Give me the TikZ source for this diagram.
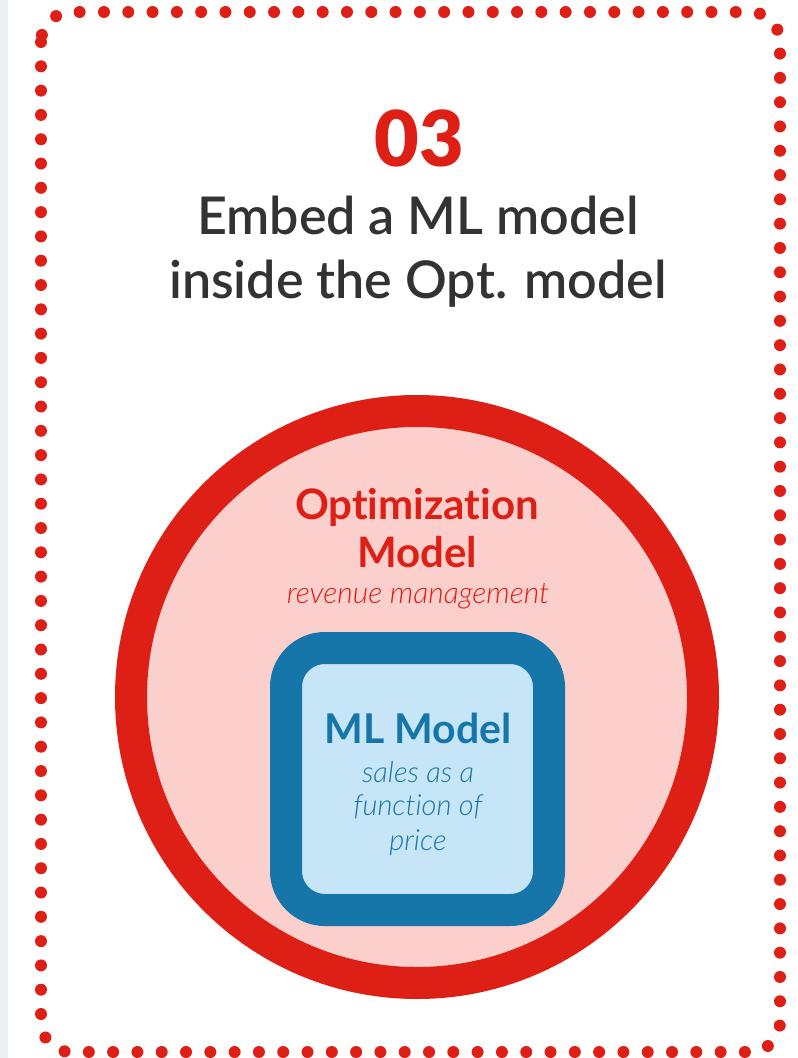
\documentclass[tikz,border=0pt]{standalone}
\usepackage{fontspec}
\setmainfont{Lato}[Ligatures=NoCommon]
\newfontfamily\blackfont{Lato Black}
\newfontfamily\medfont{Lato Semibold}[Ligatures=NoCommon]
\newfontfamily\lightit{Lato Light Italic}[Ligatures=NoCommon]
\definecolor{cred}{HTML}{DD1F16}
\definecolor{cpink}{HTML}{FBCFCB}
\definecolor{cblue}{HTML}{1776A9}
\definecolor{clblue}{HTML}{C6E6F7}
\definecolor{ctitle}{HTML}{333333}
\definecolor{cstrip}{HTML}{EBEFF3}
\tikzset{
  txt/.style={anchor=base, inner sep=0pt, align=center},
}
\begin{document}
\begin{tikzpicture}[x=1pt,y=1pt]
\useasboundingbox (0,0) rectangle (798,-1058);
\fill[white] (0,0) rectangle (798,-1058);
\fill[cstrip] (0,0) rectangle (8,-1058);
% dotted frame
\draw[cred, line width=12pt, line cap=round, dash pattern=on 0pt off 24.3pt, rounded corners=30pt]
  (41,-12) rectangle (780,-1052);
% title
\node[txt, text=cred, font=\blackfont\fontsize{77}{80}\selectfont] (num) at (419,-166) {03};
\node[txt, text=ctitle, font=\medfont\fontsize{52}{60}\selectfont] (t1) at (418,-234) {Embed a ML model};
\node[txt, text=ctitle, font=\medfont\fontsize{52}{60}\selectfont] (t2) at (418,-298) {inside the Opt. model};
% circle
\node[circle, draw=cred, fill=cpink, line width=32pt, minimum size=572pt, inner sep=0pt] (opt) at (417,-697) {};
\node[txt, text=cred, font=\bfseries\fontsize{42}{50}\selectfont] (o1) at (417,-519) {Optimization};
\node[txt, text=cred, font=\bfseries\fontsize{42}{50}\selectfont] (o2) at (417,-567) {Model};
\node[txt, text=cred, font=\lightit\fontsize{30}{34}\selectfont] (o3) at (418,-603) {revenue management};
% ML box
\node[draw=cblue, fill=clblue, line width=32pt, rounded corners=39pt, minimum width=263pt, minimum height=262pt, inner sep=0pt] (ml) at (417.5,-779) {};
\node[txt, text=cblue, font=\bfseries\fontsize{41}{50}\selectfont] (m1) at (418,-743) {ML Model};
\node[txt, text=cblue, font=\lightit\fontsize{29}{34}\selectfont] (m2) at (418,-782) {sales as a};
\node[txt, text=cblue, font=\lightit\fontsize{29}{34}\selectfont] (m3) at (418,-815) {function of};
\node[txt, text=cblue, font=\lightit\fontsize{29}{34}\selectfont] (m4) at (418,-850) {price};
\end{tikzpicture}
\end{document}
